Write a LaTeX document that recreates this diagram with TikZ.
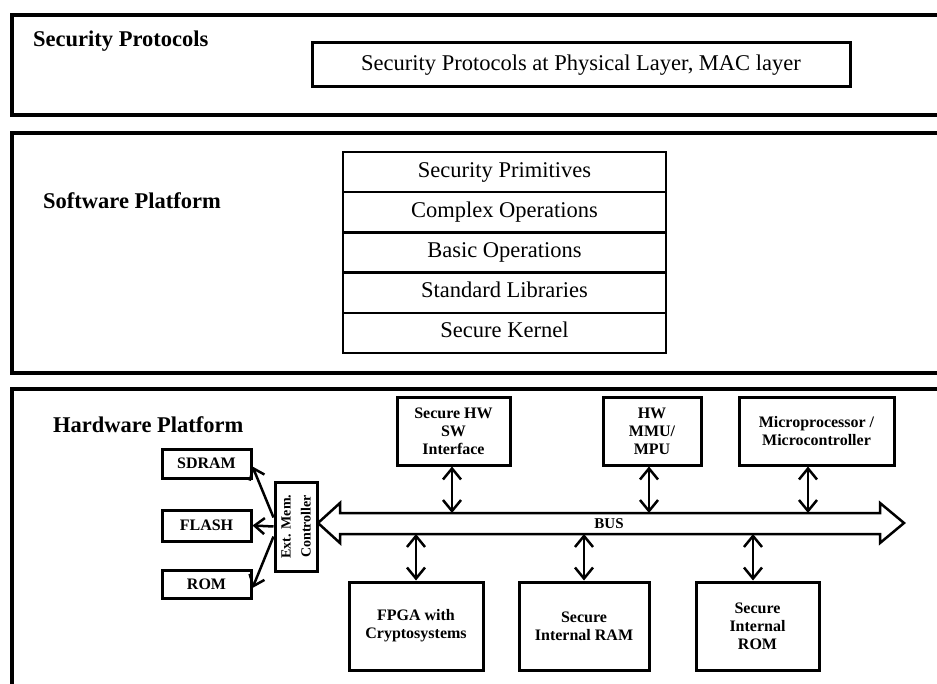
\documentclass[tikz,border=0pt]{standalone}
\usepackage{fontspec}
\setmainfont{Liberation Serif}
\usetikzlibrary{positioning}
\usetikzlibrary{arrows.meta}

\begin{document}
\begin{tikzpicture}[x=1pt, y=-1pt,
    layerframe/.style={draw=black, line width=3.5pt},
    lyrlabel/.style={anchor=base west, inner sep=0pt, font=\fontsize{22.5}{26}\selectfont\bfseries},
    proto/.style={draw, line width=3pt, inner sep=0pt, font=\fontsize{22.5}{26}\selectfont},
    swrow/.style={draw, line width=2.5pt, inner sep=0pt, outer sep=0pt, minimum width=323pt, minimum height=40.2pt,
      text height=15pt, text depth=5pt, font=\fontsize{22.5}{26}\selectfont},
    hwbox/.style={draw, line width=3pt, inner sep=0pt, align=center, font=\fontsize{16}{18}\selectfont\bfseries},
    link/.style={line width=2.5pt, {Straight Barb[length=11pt,width=18pt]}-{Straight Barb[length=11pt,width=18pt]}},
    tolink/.style={line width=2.5pt, -{Straight Barb[length=10pt,width=16pt]}},
]
\useasboundingbox (0,0) rectangle (937,684);

% the three layers
\draw[layerframe] (12,15) rectangle (960,115);
\draw[layerframe] (12,133) rectangle (960,373);
\draw[layerframe] (12,389) rectangle (960,700);

\node[lyrlabel] (seclbl) at (33,46.5) {Security Protocols};
\node[proto, minimum width=538pt, minimum height=44pt] (phymac) at (581,65) {Security Protocols at Physical Layer, MAC layer};

\node[lyrlabel] (swlbl) at (43,209) {Software Platform};
\node[swrow] (prim) at (504.5,172.1) {Security Primitives};
\node[swrow, below=0pt of prim] (cplx) {Complex Operations};
\node[swrow, below=0pt of cplx] (basic) {Basic Operations};
\node[swrow, below=0pt of basic] (stdlib) {Standard Libraries};
\node[swrow, below=0pt of stdlib] (kernel) {Secure Kernel};

\node[lyrlabel] (hwlbl) at (53,432) {Hardware Platform};

% external memories
\node[hwbox, minimum width=89pt, minimum height=29pt] (sdram) at (206.5,463.5) {SDRAM};
\node[hwbox, minimum width=89pt, minimum height=31pt] (flash) at (206.5,525.5) {FLASH};
\node[hwbox, minimum width=89pt, minimum height=28pt] (rom) at (206.5,584) {ROM};
\node[hwbox, rotate=90, minimum width=89pt, minimum height=42pt, font=\fontsize{14}{20}\selectfont\bfseries] (ctrl) at (296,526.5) {Ext. Mem.\\Controller};

% bus
\draw[line width=2.5pt] (318,523) -- (340,503) -- (340,513) -- (880,513) -- (880,503) -- (904,523)
  -- (880,543) -- (880,534) -- (340,534) -- (340,543) -- cycle;
\node[font=\fontsize{15}{18}\selectfont\bfseries, inner sep=0pt] (buslbl) at (609,524) {BUS};
\coordinate (bustop) at (0,513);
\coordinate (busbot) at (0,534);

\node[hwbox, minimum width=113pt, minimum height=67pt] (hwsw) at (453.5,431.5) {Secure HW\\SW\\Interface};
\node[hwbox, minimum width=98pt, minimum height=67pt] (mmu) at (652,431.5) {HW\\MMU/\\MPU};
\node[hwbox, minimum width=155pt, minimum height=67pt] (micro) at (816.5,431.5) {Microprocessor /\\Microcontroller};

\node[hwbox, minimum width=134pt, minimum height=88pt] (fpga) at (416,626) {FPGA with\\Cryptosystems};
\node[hwbox, minimum width=130pt, minimum height=88pt] (iram) at (584,626) {Secure\\Internal RAM};
\node[hwbox, minimum width=123pt, minimum height=88pt] (irom) at (757.5,626) {Secure\\Internal\\ROM};

\coordinate (hwswA) at ([xshift=-1.5pt]hwsw.south);
\coordinate (mmuA) at ([xshift=-3pt]mmu.south);
\coordinate (microA) at ([xshift=-8.5pt]micro.south);
\coordinate (iromA) at ([xshift=-4.5pt]irom.north);

\draw[link] (hwswA) -- (hwswA |- bustop);
\draw[link] (mmuA) -- (mmuA |- bustop);
\draw[link] (microA) -- (microA |- bustop);
\draw[link] (fpga.north) -- (fpga.north |- busbot);
\draw[link] (iram.north) -- (iram.north |- busbot);
\draw[link] (iromA) -- (iromA |- busbot);

\draw[tolink] ([yshift=9pt]ctrl.north) -- ([yshift=-3pt]sdram.east);
\draw[tolink] (ctrl.north) -- (flash.east);
\draw[tolink] ([yshift=-10pt]ctrl.north) -- ([yshift=-4pt]rom.east);
\end{tikzpicture}
\end{document}
